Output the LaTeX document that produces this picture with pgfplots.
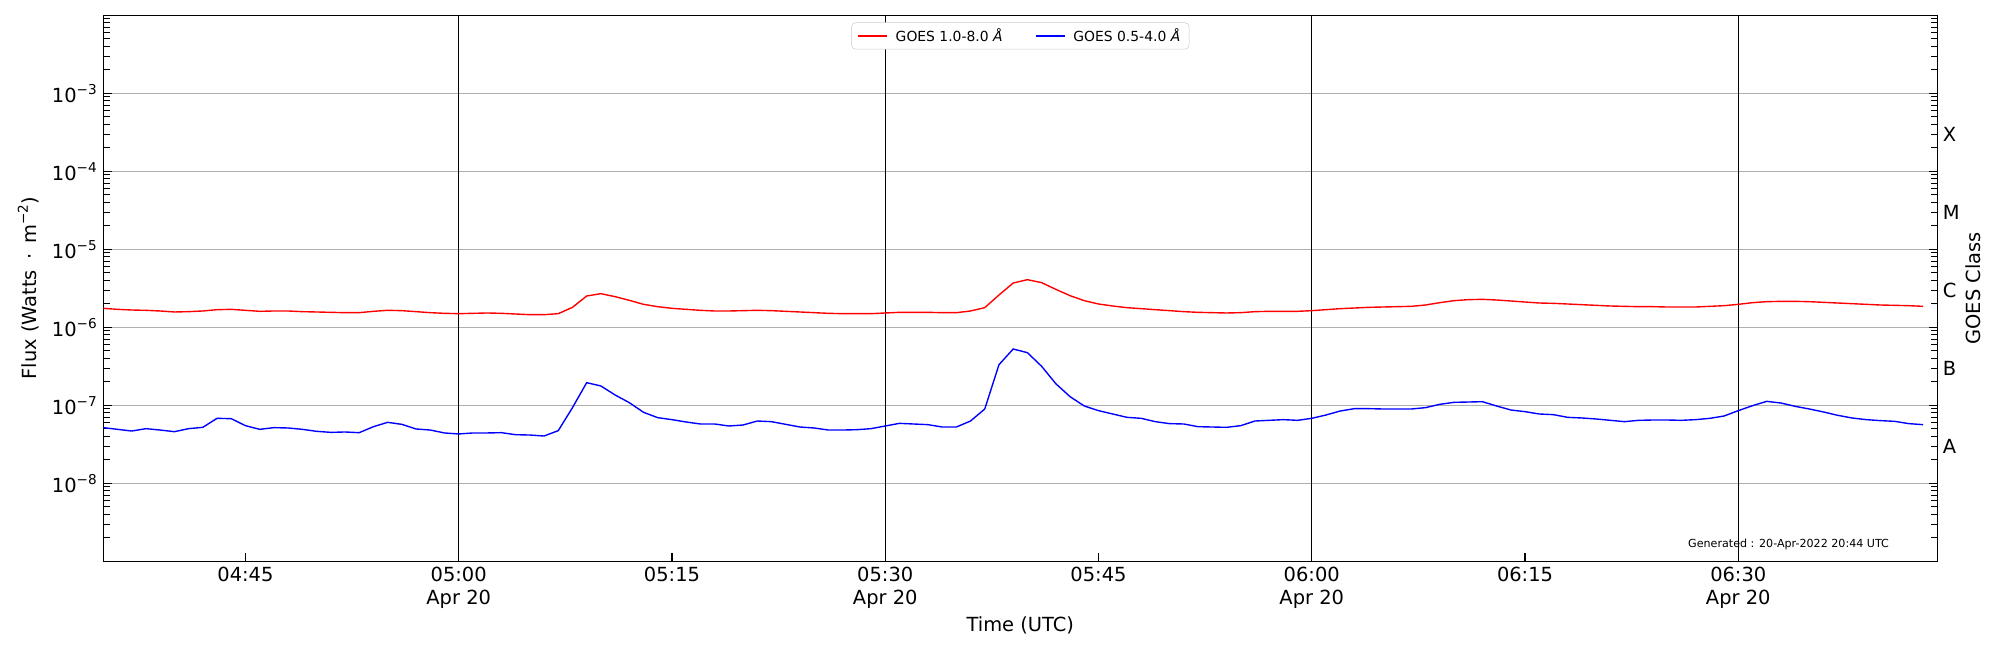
\documentclass[border=0pt]{standalone}
\usepackage{fontspec}
\setmainfont{DejaVu Sans}
\usepackage{pgfplots}
\pgfplotsset{compat=1.18}
\usepackage{pgfplotstable}

\pgfplotstableread{
t red blue
35 1.751e-6 5.17e-8
36 1.700e-6 4.92e-8
37 1.667e-6 4.68e-8
38 1.651e-6 5.02e-8
39 1.619e-6 4.82e-8
40 1.572e-6 4.59e-8
41 1.587e-6 5.02e-8
42 1.619e-6 5.22e-8
43 1.683e-6 6.81e-8
44 1.700e-6 6.74e-8
45 1.651e-6 5.48e-8
46 1.603e-6 4.92e-8
47 1.619e-6 5.17e-8
48 1.619e-6 5.12e-8
49 1.587e-6 4.92e-8
50 1.572e-6 4.64e-8
51 1.556e-6 4.50e-8
52 1.541e-6 4.55e-8
53 1.541e-6 4.46e-8
54 1.603e-6 5.32e-8
55 1.651e-6 6.05e-8
56 1.635e-6 5.70e-8
57 1.587e-6 4.97e-8
58 1.541e-6 4.82e-8
59 1.511e-6 4.42e-8
60 1.496e-6 4.29e-8
61 1.511e-6 4.42e-8
62 1.526e-6 4.42e-8
63 1.511e-6 4.46e-8
64 1.481e-6 4.20e-8
65 1.452e-6 4.16e-8
66 1.452e-6 4.04e-8
67 1.496e-6 4.73e-8
68 1.803e-6 9.33e-8
69 2.520e-6 1.95e-7
70 2.700e-6 1.77e-7
71 2.471e-6 1.356e-7
72 2.217e-6 1.081e-7
73 1.970e-6 8.13e-8
74 1.839e-6 6.94e-8
75 1.751e-6 6.55e-8
76 1.700e-6 6.11e-8
77 1.651e-6 5.76e-8
78 1.619e-6 5.76e-8
79 1.619e-6 5.43e-8
80 1.635e-6 5.59e-8
81 1.651e-6 6.29e-8
82 1.635e-6 6.17e-8
83 1.603e-6 5.70e-8
84 1.572e-6 5.27e-8
85 1.541e-6 5.12e-8
86 1.511e-6 4.82e-8
87 1.496e-6 4.82e-8
88 1.496e-6 4.87e-8
89 1.496e-6 5.02e-8
90 1.526e-6 5.43e-8
91 1.556e-6 5.87e-8
92 1.556e-6 5.76e-8
93 1.556e-6 5.65e-8
94 1.541e-6 5.27e-8
95 1.541e-6 5.27e-8
96 1.619e-6 6.29e-8
97 1.786e-6 8.97e-8
98 2.595e-6 3.32e-7
99 3.698e-6 5.27e-7
100 4.081e-6 4.73e-7
101 3.736e-6 3.16e-7
102 3.068e-6 1.89e-7
103 2.544e-6 1.290e-7
104 2.195e-6 9.80e-8
105 1.990e-6 8.54e-8
106 1.876e-6 7.74e-8
107 1.786e-6 7.01e-8
108 1.734e-6 6.81e-8
109 1.683e-6 6.17e-8
110 1.635e-6 5.82e-8
111 1.587e-6 5.76e-8
112 1.556e-6 5.32e-8
113 1.541e-6 5.27e-8
114 1.526e-6 5.22e-8
115 1.541e-6 5.48e-8
116 1.587e-6 6.29e-8
117 1.603e-6 6.42e-8
118 1.603e-6 6.55e-8
119 1.603e-6 6.42e-8
120 1.635e-6 6.81e-8
121 1.683e-6 7.51e-8
122 1.734e-6 8.45e-8
123 1.768e-6 9.06e-8
124 1.803e-6 9.06e-8
125 1.821e-6 8.97e-8
126 1.839e-6 8.97e-8
127 1.857e-6 8.97e-8
128 1.932e-6 9.33e-8
129 2.069e-6 1.029e-7
130 2.195e-6 1.092e-7
131 2.262e-6 1.102e-7
132 2.284e-6 1.113e-7
133 2.239e-6 9.80e-8
134 2.174e-6 8.71e-8
135 2.110e-6 8.29e-8
136 2.049e-6 7.74e-8
137 2.029e-6 7.59e-8
138 1.990e-6 7.01e-8
139 1.951e-6 6.88e-8
140 1.913e-6 6.68e-8
141 1.876e-6 6.42e-8
142 1.857e-6 6.17e-8
143 1.839e-6 6.42e-8
144 1.839e-6 6.48e-8
145 1.821e-6 6.48e-8
146 1.821e-6 6.42e-8
147 1.821e-6 6.55e-8
148 1.857e-6 6.81e-8
149 1.894e-6 7.29e-8
150 1.970e-6 8.54e-8
151 2.069e-6 9.89e-8
152 2.131e-6 1.124e-7
153 2.152e-6 1.070e-7
154 2.152e-6 9.70e-8
155 2.131e-6 8.97e-8
156 2.090e-6 8.21e-8
157 2.049e-6 7.44e-8
158 2.009e-6 6.88e-8
159 1.970e-6 6.55e-8
160 1.932e-6 6.36e-8
161 1.913e-6 6.23e-8
162 1.894e-6 5.82e-8
163 1.857e-6 5.65e-8
}\goesdata

\newcommand{\sups}[1]{\raisebox{0.42em}{\fontsize{9.8bp}{10bp}\selectfont #1}}
\newcommand{\tenp}[1]{10\sups{−#1}}
\newcommand{\bigfont}{\fontsize{14bp}{16.8bp}\selectfont}

\begin{document}
\begin{tikzpicture}
\begin{axis}[
  scale only axis, width=18.34in, height=5.46in,
  xmin=35, xmax=164,
  ymode=log, ymin=1e-9, ymax=1e-2,
  clip=false,
  axis line style={line width=0.8bp},
  every tick/.style={black, line width=0.8bp},
  major tick length=0.085in, minor tick length=0.065in,
  xtick={45,75,105,135},
  xticklabels={04:45,05:15,05:45,06:15},
  extra x ticks={60,90,120,150},
  extra x tick labels={05:00\\Apr 20,05:30\\Apr 20,06:00\\Apr 20,06:30\\Apr 20},
  xtick pos=lower,
  xticklabel style={font=\bigfont, align=center, anchor=north, inner sep=0pt, yshift=-0.054in},
  ytick={1e-8,1e-7,1e-6,1e-5,1e-4,1e-3},
  yticklabels={\tenp{8},\tenp{7},\tenp{6},\tenp{5},\tenp{4},\tenp{3}},
  minor ytick={2e-9,3e-9,4e-9,5e-9,6e-9,7e-9,8e-9,9e-9,
               2e-8,3e-8,4e-8,5e-8,6e-8,7e-8,8e-8,9e-8,
               2e-7,3e-7,4e-7,5e-7,6e-7,7e-7,8e-7,9e-7,
               2e-6,3e-6,4e-6,5e-6,6e-6,7e-6,8e-6,9e-6,
               2e-5,3e-5,4e-5,5e-5,6e-5,7e-5,8e-5,9e-5,
               2e-4,3e-4,4e-4,5e-4,6e-4,7e-4,8e-4,9e-4,
               2e-3,3e-3,4e-3,5e-3,6e-3,7e-3,8e-3,9e-3},
  ytick pos=both,
  yticklabel style={font=\bigfont, anchor=east, inner sep=0pt, xshift=-0.063in},
  ymajorgrids,
  major grid style={color=black!31, line width=0.6bp},
  xlabel={Time (UTC)},
  xlabel style={at={(axis description cs:0.5,0)}, anchor=base, inner sep=0pt, yshift=-0.697in, font=\bigfont},
  ylabel={Flux (Watts\hspace{0.2em} · \hspace{0.2em}m\sups{−2})},
  ylabel style={at={(axis description cs:-0.0366,0.5)}, anchor=base, inner sep=0pt, font=\bigfont},
  legend columns=2,
  legend cell align=left,
  legend image code/.code={\draw[#1] (0in,0in) -- (0.29in,0in);},
  legend style={at={(0.5,0.987)}, anchor=north, draw=black!20, rounded corners=3bp,
    fill=white, font=\fontsize{10bp}{12bp}\selectfont,
    inner xsep=0.06in, inner ysep=0.03in,
    /tikz/every odd column/.append style={column sep=0.05in},
    /tikz/every even column/.append style={column sep=0.3in}},
]
\addplot[black, line width=0.8bp, forget plot] coordinates {(60,1e-9) (60,1e-2)};
\addplot[black, line width=0.8bp, forget plot] coordinates {(90,1e-9) (90,1e-2)};
\addplot[black, line width=0.8bp, forget plot] coordinates {(120,1e-9) (120,1e-2)};
\addplot[black, line width=0.8bp, forget plot] coordinates {(150,1e-9) (150,1e-2)};
\addplot[color={rgb,1:red,1;green,0;blue,0}, line width=1bp] table[x=t, y=red] {\goesdata};
\addlegendentry{GOES 1.0-8.0 {\itshape Å}}
\addplot[color={rgb,1:red,0;green,0;blue,1}, line width=1bp] table[x=t, y=blue] {\goesdata};
\addlegendentry{GOES 0.5-4.0 {\itshape Å}\hspace{0.04in}}
\node[anchor=base east, inner sep=0pt, font=\fontsize{8bp}{9.6bp}\selectfont] at (axis description cs:0.9738,0.0249) {Generated : 20-Apr-2022 20:44 UTC};
\node[rotate=90, anchor=base, inner sep=0pt, font=\bigfont] at (axis description cs:1.0237,0.5) {GOES Class};
\node[anchor=west, inner sep=0pt, xshift=0.054in, yshift=-0.025in, font=\bigfont] at (axis cs:164,3.162e-8) {A};
\node[anchor=west, inner sep=0pt, xshift=0.054in, yshift=-0.025in, font=\bigfont] at (axis cs:164,3.162e-7) {B};
\node[anchor=west, inner sep=0pt, xshift=0.054in, yshift=-0.025in, font=\bigfont] at (axis cs:164,3.162e-6) {C};
\node[anchor=west, inner sep=0pt, xshift=0.054in, yshift=-0.025in, font=\bigfont] at (axis cs:164,3.162e-5) {M};
\node[anchor=west, inner sep=0pt, xshift=0.054in, yshift=-0.025in, font=\bigfont] at (axis cs:164,3.162e-4) {X};
\end{axis}
\pgfresetboundingbox
\path (-1.033in,-0.887in) rectangle (18.967in,5.613in);
\end{tikzpicture}
\end{document}
